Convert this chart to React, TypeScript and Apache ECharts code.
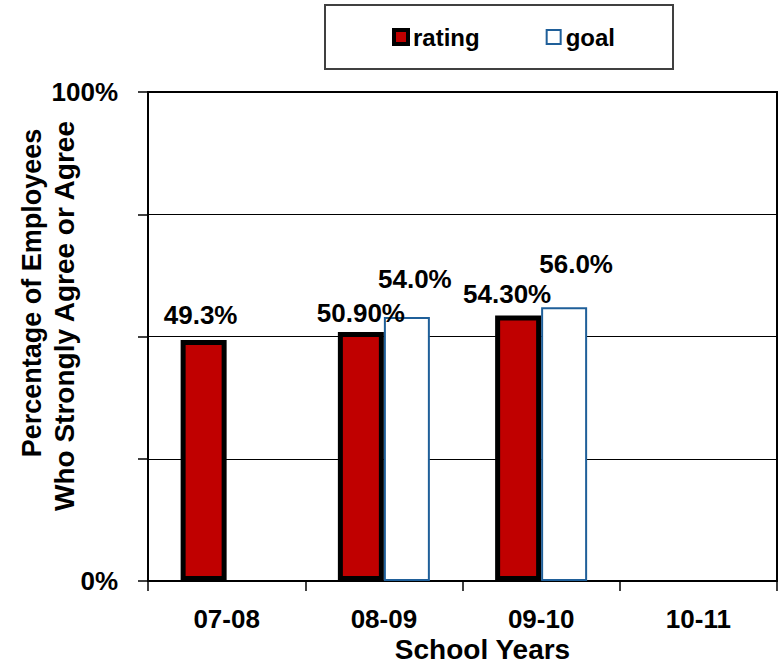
import React, { useEffect, useRef } from "react";
import * as echarts from "echarts";

// School-year survey results
const schoolYears = ["07-08", "08-09", "09-10", "10-11"];
const ratingValues: (number | null)[] = [49.3, 50.9, 54.3, null];
const goalValues: (number | null)[] = [null, 54.0, 56.0, null];
const ratingDecimals = [1, 2, 2, 0];
const goalDecimals = [0, 1, 1, 0];
const yTicks = [0, 25, 50, 75, 100];
const yLabelShown = [0, 100];

const FONT = "'Liberation Sans', Arial, sans-serif";

// per-bar label nudges (px) so the value labels sit as in the layout
const ratingLabelShift = [[-3, -7], [0, -1], [-11, -3], [0, 0]];
const goalLabelShift = [[0, 0], [8, -20], [12, -25], [0, 0]];

export default function App() {
  const ref = useRef<HTMLDivElement>(null);

  useEffect(() => {
    if (!ref.current) return;
    const chart = echarts.init(ref.current, null, { renderer: "svg" });

    const labelStyle = {
      show: true,
      position: "top" as const,
      distance: 5,
      fontFamily: FONT,
      fontSize: 26,
      fontWeight: "bold" as const,
      color: "#000",
    };

    const ratingData = ratingValues.map((v, i) =>
      v == null
        ? "-"
        : {
            value: v,
            label: {
              ...labelStyle,
              offset: ratingLabelShift[i],
              formatter: v.toFixed(ratingDecimals[i]) + "%",
            },
          }
    );
    const goalData = goalValues.map((v, i) =>
      v == null
        ? "-"
        : {
            value: v,
            label: {
              ...labelStyle,
              offset: goalLabelShift[i],
              formatter: v.toFixed(goalDecimals[i]) + "%",
            },
          }
    );

    chart.setOption({
      animation: false,
      backgroundColor: "#fff",
      textStyle: { fontFamily: FONT },
      legend: {
        left: 325,
        top: 5,
        orient: "horizontal",
        padding: [20, 58, 20, 67],
        itemGap: 66,
        itemWidth: 14,
        itemHeight: 14,
        borderColor: "#404040",
        borderWidth: 2,
        textStyle: {
          fontFamily: FONT,
          fontSize: 24,
          fontWeight: "bold",
          color: "#000",
        },
        data: [
          {
            name: "rating",
            icon: "rect",
            itemStyle: { color: "#C00000", borderColor: "#000", borderWidth: 4 },
          },
          {
            name: "goal",
            icon: "rect",
            itemStyle: { color: "#fff", borderColor: "#1F5F99", borderWidth: 2 },
          },
        ],
      },
      grid: {
        left: 148,
        right: 2,
        top: 92,
        bottom: 87,
        containLabel: false,
        outerBoundsMode: "none",
        show: true,
        borderColor: "#000",
        borderWidth: 2,
        backgroundColor: "transparent",
      },
      xAxis: {
        type: "category",
        data: schoolYears,
        name: "School Years",
        nameLocation: "middle",
        nameMoveOverlap: false,
        nameGap: 54,
        nameTextStyle: {
          fontFamily: FONT,
          fontSize: 28,
          fontWeight: "bold",
          color: "#000",
          padding: [0, 0, 0, 40],
        },
        axisLine: { lineStyle: { color: "#000", width: 2 } },
        axisTick: { show: true, length: 10, lineStyle: { color: "#000", width: 1.5 } },
        axisLabel: {
          margin: 25,
          fontFamily: FONT,
          fontSize: 26,
          fontWeight: "bold",
          color: "#000",
        },
      },
      yAxis: {
        type: "value",
        min: yTicks[0],
        max: yTicks[yTicks.length - 1],
        interval: yTicks[1] - yTicks[0],
        axisLine: { show: true, lineStyle: { color: "#000", width: 2 } },
        axisTick: { show: true, length: 10, lineStyle: { color: "#000", width: 1.5 } },
        splitLine: { show: true, lineStyle: { color: "#000", width: 1 } },
        axisLabel: {
          margin: 30,
          fontFamily: FONT,
          fontSize: 26,
          fontWeight: "bold",
          color: "#000",
          formatter: (v: number) => (yLabelShown.includes(v) ? v + "%" : ""),
        },
      },
      graphic: [
        {
          type: "text",
          x: 32,
          y: 293,
          rotation: Math.PI / 2,
          style: {
            text: "Percentage of Employees",
            fontFamily: FONT,
            fontSize: 27,
            fontWeight: "bold",
            fill: "#000",
            align: "center",
            verticalAlign: "middle",
          },
        },
        {
          type: "text",
          x: 64,
          y: 316,
          rotation: Math.PI / 2,
          style: {
            text: "Who Strongly Agree or Agree",
            fontFamily: FONT,
            fontSize: 28,
            fontWeight: "bold",
            fill: "#000",
            align: "center",
            verticalAlign: "middle",
          },
        },
      ],
      series: [
        {
          name: "rating",
          type: "bar",
          barWidth: 46,
          barGap: "0%",
          data: ratingData,
          itemStyle: { color: "#C00000", borderColor: "#000", borderWidth: 5 },
        },
        {
          name: "goal",
          type: "bar",
          barWidth: 46,
          barGap: "0%",
          data: goalData,
          itemStyle: { color: "#fff", borderColor: "#1F5F99", borderWidth: 2 },
        },
      ],
    });

    return () => chart.dispose();
  }, []);

  return (
    <div
      ref={ref}
      style={{ position: "absolute", left: 0, top: 0, width: 779, height: 668 }}
    />
  );
}
